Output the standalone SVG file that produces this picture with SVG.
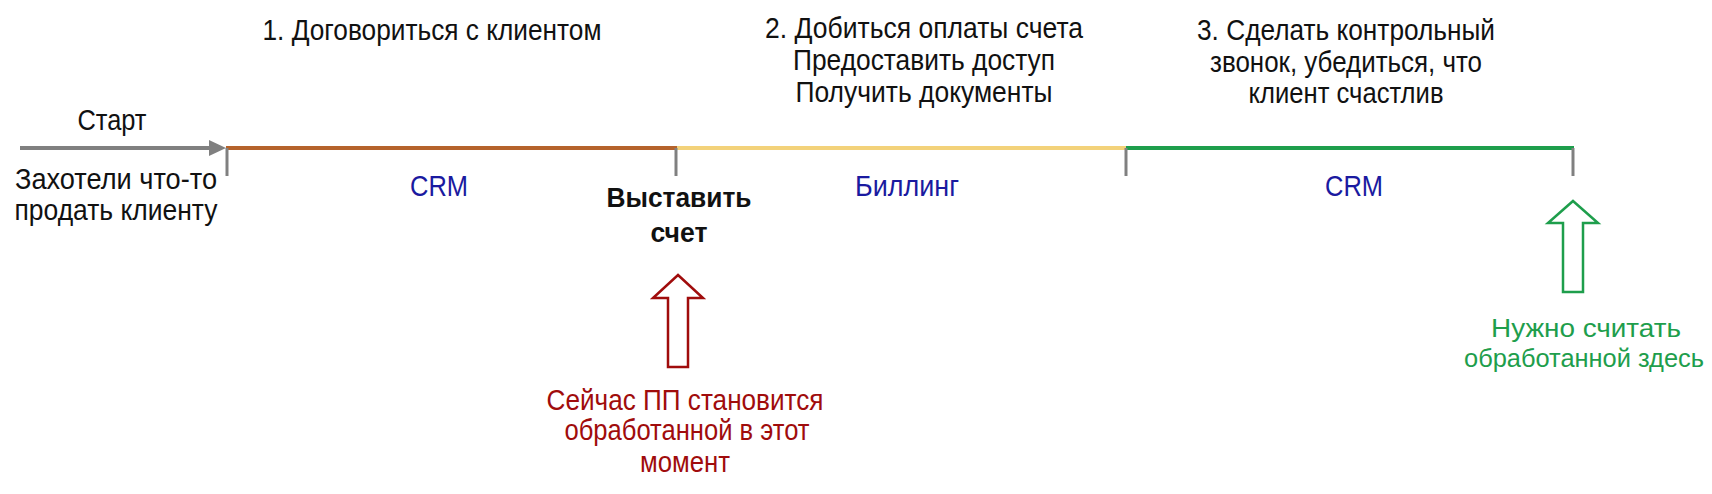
<svg xmlns="http://www.w3.org/2000/svg" width="1712" height="494" viewBox="0 0 1712 494">
<style>
text{font-family:"Liberation Sans",Arial,sans-serif;font-size:29px;text-anchor:middle;fill:#111}
.blue{fill:#1a1aa0}
.red{fill:#a00c0c}
.green{fill:#1e9e4c;font-size:26px}
.bold{font-weight:bold;font-size:28px}
.tick{stroke:#808080;stroke-width:3;fill:none}
.seg{stroke-width:4;fill:none}
</style>
<rect width="1712" height="494" fill="#ffffff"/>
<g id="connectors">
<line x1="20" y1="148" x2="212" y2="148" stroke="#808080" stroke-width="4"/>
<polygon points="209,140 226,148 209,156" fill="#808080"/>
<line class="seg" x1="226" y1="148" x2="677" y2="148" stroke="#b5632b"/>
<line class="seg" x1="677" y1="148" x2="1126" y2="148" stroke="#f3d27a"/>
<line class="seg" x1="1126" y1="148" x2="1574" y2="148" stroke="#1e9e4c"/>
<line class="tick" x1="227" y1="148" x2="227" y2="176"/>
<line class="tick" x1="676" y1="148" x2="676" y2="176"/>
<line class="tick" x1="1126" y1="148" x2="1126" y2="176"/>
<line class="tick" x1="1573" y1="148" x2="1573" y2="176"/>
</g>
<g id="start">
<text x="112" y="130" textLength="69" lengthAdjust="spacingAndGlyphs">Старт</text>
<text x="116" y="189" textLength="202" lengthAdjust="spacingAndGlyphs">Захотели что-то</text>
<text x="116" y="220" textLength="203" lengthAdjust="spacingAndGlyphs">продать клиенту</text>
</g>
<g id="step1">
<text x="432" y="40" textLength="339" lengthAdjust="spacingAndGlyphs">1. Договориться с клиентом</text>
<text class="blue" x="439" y="196" textLength="58" lengthAdjust="spacingAndGlyphs">CRM</text>
</g>
<g id="invoice">
<text class="bold" x="679" y="207" textLength="145" lengthAdjust="spacingAndGlyphs">Выставить</text>
<text class="bold" x="679" y="242" textLength="57" lengthAdjust="spacingAndGlyphs">счет</text>
</g>
<g id="step2">
<text x="924" y="38" textLength="318" lengthAdjust="spacingAndGlyphs">2. Добиться оплаты счета</text>
<text x="924" y="70" textLength="262" lengthAdjust="spacingAndGlyphs">Предоставить доступ</text>
<text x="924" y="102" textLength="257" lengthAdjust="spacingAndGlyphs">Получить документы</text>
<text class="blue" x="907" y="196" textLength="104" lengthAdjust="spacingAndGlyphs">Биллинг</text>
</g>
<g id="step3">
<text x="1346" y="40" textLength="298" lengthAdjust="spacingAndGlyphs">3. Сделать контрольный</text>
<text x="1346" y="72" textLength="272" lengthAdjust="spacingAndGlyphs">звонок, убедиться, что</text>
<text x="1346" y="103" textLength="195" lengthAdjust="spacingAndGlyphs">клиент счастлив</text>
<text class="blue" x="1354" y="196" textLength="58" lengthAdjust="spacingAndGlyphs">CRM</text>
</g>
<g id="current">
<polygon points="678,275 703,298 688,298 688,367 668,367 668,298 653,298" fill="#ffffff" stroke="#a00c0c" stroke-width="2.5"/>
<text class="red" x="685" y="410" textLength="277" lengthAdjust="spacingAndGlyphs">Сейчас ПП становится</text>
<text class="red" x="687" y="440" textLength="245" lengthAdjust="spacingAndGlyphs">обработанной в этот</text>
<text class="red" x="685" y="472" textLength="90" lengthAdjust="spacingAndGlyphs">момент</text>
</g>
<g id="target">
<polygon points="1573,201 1598,223 1583,223 1583,292 1563,292 1563,223 1548,223" fill="#ffffff" stroke="#1e9e4c" stroke-width="2.5"/>
<text class="green" x="1586" y="337" textLength="190" lengthAdjust="spacingAndGlyphs">Нужно считать</text>
<text class="green" x="1584" y="367" textLength="240" lengthAdjust="spacingAndGlyphs">обработанной здесь</text>
</g>
</svg>
